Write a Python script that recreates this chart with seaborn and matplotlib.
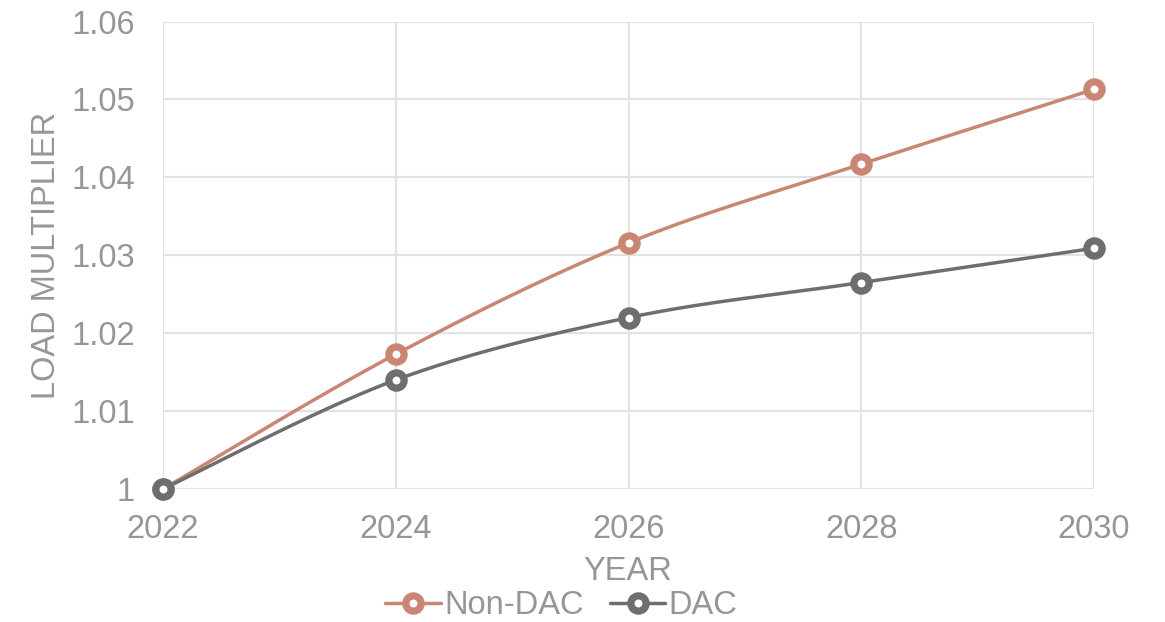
import numpy as np
import pandas as pd
import matplotlib
matplotlib.use("Agg")
import matplotlib.pyplot as plt
from matplotlib.lines import Line2D
import seaborn as sns

# Data
years = [2022, 2024, 2026, 2028, 2030]
non_dac = [1.0000, 1.0173, 1.0316, 1.0417, 1.0513]
dac = [1.0000, 1.0140, 1.0220, 1.0265, 1.0309]
series_names = ["Non-DAC", "DAC"]
y_ticks = [1.00, 1.01, 1.02, 1.03, 1.04, 1.05, 1.06]
y_tick_labels = ["1", "1.01", "1.02", "1.03", "1.04", "1.05", "1.06"]

colors = {"Non-DAC": "#C98773", "DAC": "#6E6E6E"}
text_color = "#969696"
grid_color = "#E2E2E2"
font_size = 23.5

sns.set_theme(style="white")
plt.rcParams["font.family"] = ["Liberation Sans", "DejaVu Sans"]


def smooth_curve(xs, ys, steps=40):
    """Cubic Bezier smoothing through every point (spreadsheet-style smoothed line)."""
    xs = np.asarray(xs, float)
    ys = np.asarray(ys, float)
    pts = np.column_stack([xs, ys])
    n = len(pts)
    out = []
    for i in range(n - 1):
        p0 = pts[i - 1] if i > 0 else pts[i]
        p1 = pts[i]
        p2 = pts[i + 1]
        p3 = pts[i + 2] if i + 2 < n else pts[i + 1]
        c1 = p1 + (p2 - p0) / 6.0
        c2 = p2 - (p3 - p1) / 6.0
        t = np.linspace(0, 1, steps)[:, None]
        seg = ((1 - t) ** 3) * p1 + 3 * ((1 - t) ** 2) * t * c1 + 3 * (1 - t) * t ** 2 * c2 + t ** 3 * p2
        if i > 0:
            seg = seg[1:]
        out.append(seg)
    out = np.vstack(out)
    return out[:, 0], out[:, 1]


frames = []
points = []
for name, vals in zip(series_names, [non_dac, dac]):
    sx, sy = smooth_curve(years, vals)
    frames.append(pd.DataFrame({"year": sx, "value": sy, "series": name}))
    points.append(pd.DataFrame({"year": years, "value": vals, "series": name}))
curve_df = pd.concat(frames, ignore_index=True)
point_df = pd.concat(points, ignore_index=True)

fig = plt.figure(figsize=(11.65, 6.22), dpi=100)
ax = fig.add_axes([0.1399, 0.2138, 0.7992, 0.7516])

sns.lineplot(data=curve_df, x="year", y="value", hue="series", palette=colors,
             sort=False, estimator=None, linewidth=2.5, legend=False, ax=ax, zorder=3)

marker_kw = dict(marker="o", markersize=11, markeredgewidth=5.2, markerfacecolor="white")
for name in series_names:
    sub = point_df[point_df["series"] == name]
    ax.plot(sub["year"], sub["value"], linestyle="none", markeredgecolor=colors[name],
            zorder=4, clip_on=False, **marker_kw)

ax.set_xlim(2022, 2030)
ax.set_ylim(1.0, 1.06)
ax.set_xticks(years)
ax.set_xticklabels([str(y) for y in years])
ax.set_yticks(y_ticks)
ax.set_yticklabels(y_tick_labels)

ax.grid(True, color=grid_color, linewidth=1.5)
ax.set_axisbelow(True)
for sp in ax.spines.values():
    sp.set_visible(False)

ax.tick_params(axis="both", length=0, labelsize=font_size, colors=text_color)
ax.tick_params(axis="y", pad=20)
ax.tick_params(axis="x", pad=18)

ax.set_xlabel("YEAR", fontsize=font_size, color=text_color)
ax.set_ylabel("LOAD MULTIPLIER", fontsize=font_size, color=text_color)
ax.xaxis.set_label_coords(0.4995, -0.1775)
ax.yaxis.set_label_coords(-0.1246, 0.5)
ax.xaxis.label.set_verticalalignment("center")
ax.yaxis.label.set_verticalalignment("center")

handles = [Line2D([0], [0], color=colors[n], linewidth=2.5, markeredgecolor=colors[n], **marker_kw)
           for n in series_names]
leg = fig.legend(handles, series_names, loc="center", bbox_to_anchor=(0.482, 0.026),
                 ncol=2, frameon=False, fontsize=font_size, handlelength=1.7,
                 handletextpad=0.1, columnspacing=0.8, borderaxespad=0, borderpad=0)
for t in leg.get_texts():
    t.set_color(text_color)

fig.savefig("out.png", dpi=100)
